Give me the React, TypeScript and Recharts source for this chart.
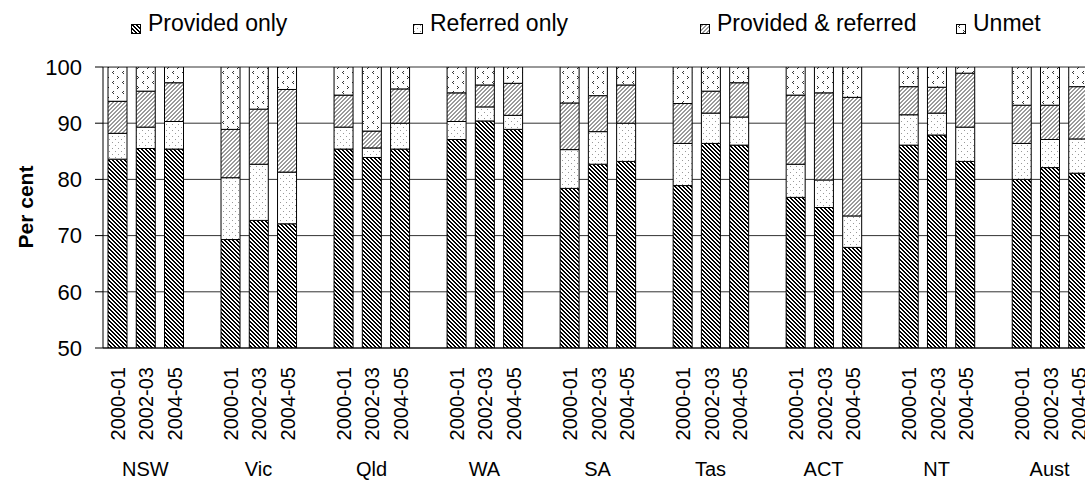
import React from 'react';
import { BarChart, Bar, XAxis, YAxis, CartesianGrid, Legend } from 'recharts';

const states = ['NSW', 'Vic', 'Qld', 'WA', 'SA', 'Tas', 'ACT', 'NT', 'Aust'];
const years = ['2000-01', '2002-03', '2004-05'];

// per cent, three years per state, same order as states
const providedOnly = [
  83.6, 85.5, 85.4, 69.3, 72.7, 72.1, 85.4, 83.9, 85.4,
  87.1, 90.4, 88.9, 78.4, 82.7, 83.2, 78.9, 86.4, 86.1,
  76.8, 75.0, 67.9, 86.1, 87.9, 83.2, 80.0, 82.1, 81.1,
];
const referredOnly = [
  4.6, 3.8, 4.9, 11.0, 10.0, 9.2, 3.9, 1.7, 4.6,
  3.2, 2.5, 2.5, 6.9, 5.8, 6.8, 7.5, 5.4, 5.0,
  5.9, 4.9, 5.6, 5.4, 3.9, 6.1, 6.4, 5.0, 6.1,
];
const providedReferred = [
  5.7, 6.4, 6.9, 8.6, 9.8, 14.7, 5.7, 3.0, 6.1,
  5.1, 3.9, 5.7, 8.3, 6.4, 6.8, 7.1, 3.9, 6.1,
  12.3, 15.5, 21.1, 5.0, 4.6, 9.6, 6.8, 6.1, 9.3,
];
const unmet = [
  6.1, 4.3, 2.8, 11.1, 7.5, 4.0, 5.0, 11.4, 3.9,
  4.6, 3.2, 2.9, 6.4, 5.1, 3.2, 6.5, 4.3, 2.8,
  5.0, 4.6, 5.4, 3.5, 3.6, 1.1, 6.8, 6.8, 3.5,
];
const yTicks = [50, 60, 70, 80, 90, 100];

const series = [
  { key: 'providedOnly', name: 'Provided only', fill: 'url(#patProvided)' },
  { key: 'referredOnly', name: 'Referred only', fill: 'url(#patReferred)' },
  { key: 'providedReferred', name: 'Provided & referred', fill: 'url(#patBoth)' },
  { key: 'unmet', name: 'Unmet', fill: 'url(#patUnmet)' },
];
// left edge of each legend entry
const legendLeft = [131, 413, 700, 956];

// one row per bar, with an empty row between states
const rows: any[] = [];
states.forEach((s, si) => {
  if (si > 0) rows.push({ key: `gap-${si}`, year: '', state: '' });
  years.forEach((y, yi) => {
    const i = si * 3 + yi;
    rows.push({
      key: `${s} ${y}`,
      year: y,
      state: yi === 1 ? s : '',
      providedOnly: providedOnly[i],
      referredOnly: referredOnly[i],
      providedReferred: providedReferred[i],
      unmet: unmet[i],
    });
  });
});
const rowByKey = new Map(rows.map((r) => [r.key, r]));

const FONT = '"Liberation Sans", Arial, sans-serif';

const XTick = (props: any) => {
  const { x, y, payload } = props;
  const row = rowByKey.get(payload.value);
  if (!row || !row.year) return null;
  return (
    <g>
      <text
        transform={`translate(${x + 1},${y + 19}) rotate(-90)`}
        textAnchor="end"
        dominantBaseline="central"
        fontSize={20}
        fontFamily={FONT}
        fill="#000"
      >
        {row.year}
      </text>
      {row.state && (
        <text x={x} y={y + 128} textAnchor="middle" fontSize={20} fontFamily={FONT} fill="#000">
          {row.state}
        </text>
      )}
    </g>
  );
};

const LegendBox = () => (
  <div
    style={{
      position: 'relative',
      height: 40,
      width: 1085,
      fontFamily: FONT,
      fontSize: 23,
      lineHeight: '25px',
      color: '#000',
      whiteSpace: 'nowrap',
    }}
  >
    {series.map((s, i) => (
      <div key={s.key} style={{ position: 'absolute', left: legendLeft[i], top: 11, display: 'flex', alignItems: 'flex-start' }}>
        <svg width={10} height={10} style={{ marginTop: 13, marginRight: 7 }}>
          <rect x={0.5} y={0.5} width={9} height={9} fill={s.fill} stroke="#000" strokeWidth={1} />
        </svg>
        <span>{s.name}</span>
      </div>
    ))}
  </div>
);

export default function App() {
  return (
    <div style={{ position: 'fixed', left: 0, top: 0, width: 1085, height: 482, overflow: 'hidden', background: '#fff' }}>
      <BarChart
        width={1092}
        height={482}
        data={rows}
        barSize={19}
        margin={{ top: 27, right: 0, bottom: 0, left: 0 }}
      >
        <defs>
          <pattern id="patProvided" width={4} height={4} patternUnits="userSpaceOnUse">
            <rect width={4} height={4} fill="#fff" />
            <path d="M0 0h2v1H0zM1 1h2v1H1zM2 2h2v1H2zM3 3h1v1H3zM0 3h1v1H0z" fill="#000" />
          </pattern>
          <pattern id="patReferred" width={6} height={6} patternUnits="userSpaceOnUse">
            <rect width={6} height={6} fill="#fff" />
            <rect x={1} y={1} width={1} height={1} fill="#999" />
            <rect x={4} y={4} width={1} height={1} fill="#999" />
          </pattern>
          <pattern id="patBoth" width={4} height={4} patternUnits="userSpaceOnUse">
            <rect width={4} height={4} fill="#fff" />
            <path d="M2 0h2v1H2zM1 1h2v1H1zM0 2h2v1H0zM0 3h1v1H0zM3 3h1v1H3z" fill="#9a9a9a" />
          </pattern>
          <pattern id="patUnmet" width={10} height={10} patternUnits="userSpaceOnUse">
            <rect width={10} height={10} fill="#fff" />
            <path d="M3 1h1v1H3zM2 2h1v1H2zM3 3h1v1H3zM7 6h1v1H7zM8 7h1v1H8zM7 8h1v1H7z" fill="#333" />
          </pattern>
        </defs>
        <CartesianGrid vertical={false} stroke="#333" strokeWidth={1} />
        <XAxis
          dataKey="key"
          type="category"
          interval={0}
          height={134}
          tickLine={false}
          tickSize={0}
          tickMargin={0}
          axisLine={{ stroke: '#000' }}
          tick={<XTick />}
        />
        <YAxis
          type="number"
          domain={[50, 100]}
          ticks={yTicks}
          allowDataOverflow
          width={103}
          tickSize={8}
          tickMargin={13}
          axisLine={{ stroke: '#000' }}
          tickLine={{ stroke: '#000' }}
          tick={{ fontSize: 22, fontFamily: FONT, fill: '#000' }}
          label={{
            content: () => (
              <text
                x={25}
                y={207}
                transform="rotate(-90 25 207)"
                textAnchor="middle"
                dominantBaseline="central"
                fontSize={21}
                fontWeight="bold"
                fontFamily={FONT}
                fill="#000"
              >
                Per cent
              </text>
            ),
          }}
        />
        <Legend verticalAlign="top" align="left" wrapperStyle={{ top: 0, left: 0, width: 1085, height: 40 }} content={<LegendBox />} />
        {series.map((s) => (
          <Bar
            key={s.key}
            dataKey={s.key}
            name={s.name}
            stackId="a"
            fill={s.fill}
            stroke="#000"
            strokeWidth={1}
            isAnimationActive={false}
          />
        ))}
      </BarChart>
    </div>
  );
}
